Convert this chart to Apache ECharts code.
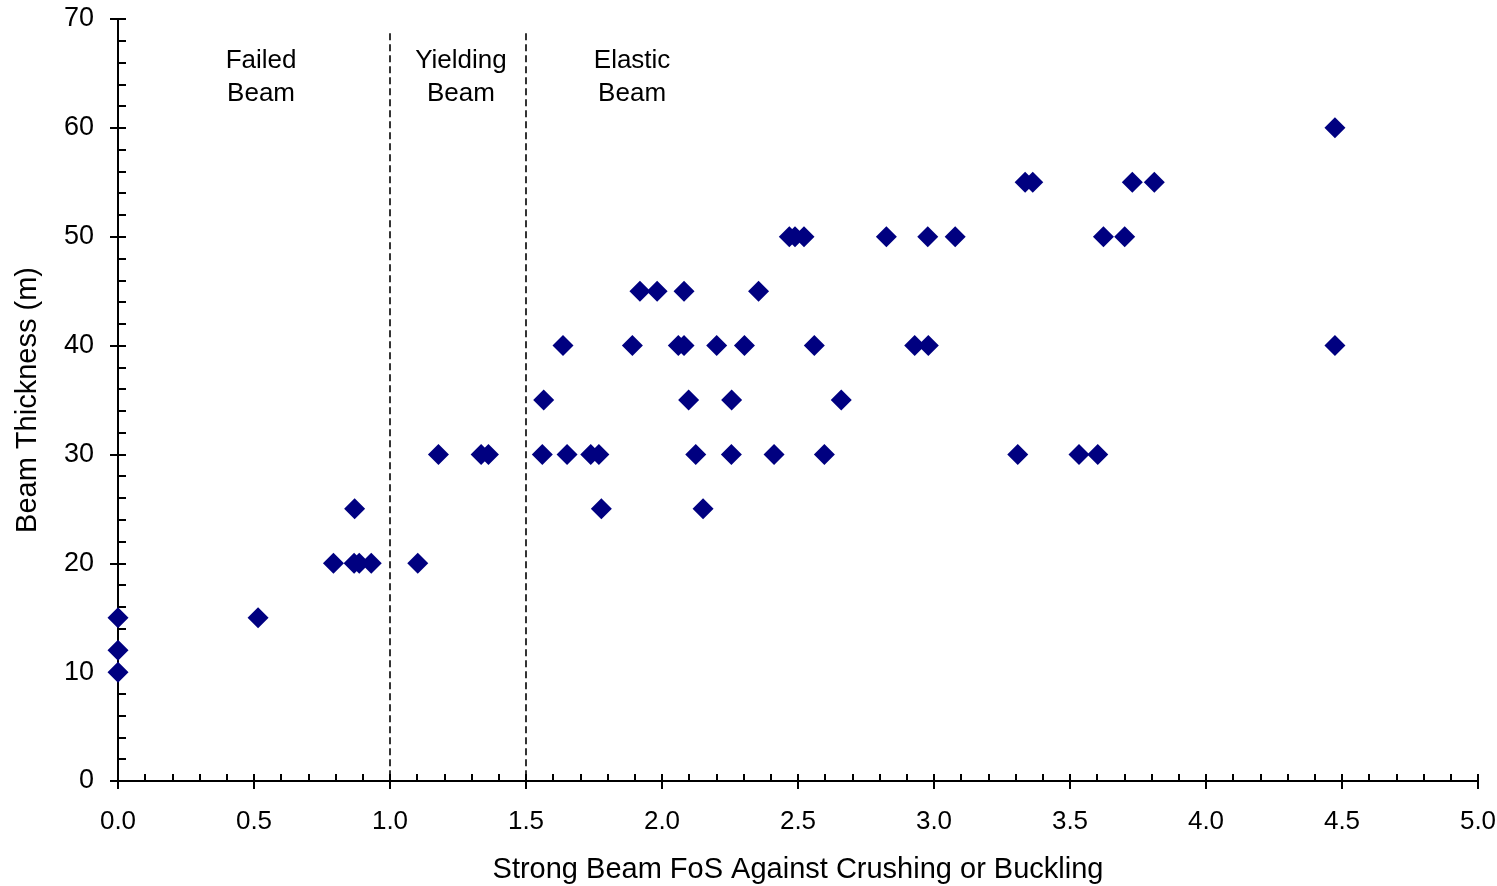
<!DOCTYPE html>
<html>
<head>
<meta charset="utf-8">
<script src="https://cdn.jsdelivr.net/npm/echarts@6/dist/echarts.min.js"></script>
<style>html,body{margin:0;padding:0;background:#fff;}#c{width:1497px;height:886px;}</style>
</head>
<body>
<div id="c"></div>
<script>
// Strong beam FoS (x) and beam thickness (y)
const fosValues = [
  0, 0, 0, 0.515,
  0.792, 0.868, 0.887, 0.931, 1.102, 0.870,
  1.178, 1.335, 1.362,
  1.560, 1.651, 1.738, 1.768, 2.124, 2.255, 2.412, 2.597, 3.308, 3.533, 3.602,
  1.777, 2.151,
  1.565, 2.098, 2.256, 2.659,
  1.636, 1.891, 2.060, 2.081, 2.201, 2.303, 2.560, 2.929, 2.979, 4.474,
  1.919, 1.982, 2.081, 2.355,
  2.468, 2.489, 2.522, 2.825, 2.977, 3.078, 3.623, 3.701,
  3.335, 3.363, 3.729, 3.810,
  4.474
];
const thicknessValues = [
  10, 12, 15, 15,
  20, 20, 20, 20, 20, 25,
  30, 30, 30,
  30, 30, 30, 30, 30, 30, 30, 30, 30, 30, 30,
  25, 25,
  35, 35, 35, 35,
  40, 40, 40, 40, 40, 40, 40, 40, 40, 40,
  45, 45, 45, 45,
  50, 50, 50, 50, 50, 50, 50, 50,
  55, 55, 55, 55,
  60
];
const boundaryFoS = [1.0, 1.5];
const boundaryTop = 68.7;
const zoneLabels = ['Failed\nBeam', 'Yielding\nBeam', 'Elastic\nBeam'];
const zoneLabelX = [0.526, 1.261, 1.890];
const zoneLabelY = [64.6, 64.6, 64.6];
const xTitle = 'Strong Beam FoS Against Crushing or Buckling';
const yTitle = 'Beam Thickness (m)';

const font = 'Liberation Sans, Arial, sans-serif';
const chart = echarts.init(document.getElementById('c'), null, {renderer: 'canvas'});

const points = fosValues.map((x, i) => [x, thicknessValues[i]]);
const boundarySeries = boundaryFoS.map(b => ({
  type: 'line',
  data: [[b, boundaryTop], [b, 0]],
  symbol: 'none',
  silent: true,
  lineStyle: {color: '#000', width: 1.6, type: [7, 4]},
  z: 1
}));

const labelSeries = {
  type: 'scatter',
  symbolSize: 0,
  silent: true,
  itemStyle: {color: '#fff', opacity: 0},
  data: zoneLabels.map((t, i) => ({value: [zoneLabelX[i], zoneLabelY[i]], name: t})),
  label: {
    show: true,
    position: 'inside',
    formatter: p => p.name,
    color: '#000',
    opacity: 1,
    textBorderWidth: 0,
    fontSize: 26,
    fontFamily: font,
    lineHeight: 33,
    align: 'center',
    verticalAlign: 'middle'
  }
};

const axisLine = {show: true, onZero: false, lineStyle: {color: '#000', width: 2}};

chart.setOption({
  animation: false,
  backgroundColor: '#fff',
  grid: {left: 118, right: 19, top: 19, bottom: 105, containLabel: false, outerBoundsMode: 'none'},
  xAxis: [
    {
      type: 'value', min: 0, max: 5, interval: 0.5, position: 'bottom',
      name: xTitle, nameLocation: 'middle', nameGap: 74,
      nameTextStyle: {fontSize: 29, fontFamily: font, color: '#000'},
      axisLine: axisLine,
      axisTick: {show: true, inside: true, length: 7, lineStyle: {color: '#000', width: 2}},
      minorTick: {show: true, splitNumber: 5, length: 7, lineStyle: {color: '#000', width: 2}},
      splitLine: {show: false}, minorSplitLine: {show: false},
      axisLabel: {fontSize: 26, fontFamily: font, color: '#000', margin: 28, formatter: v => v.toFixed(1)}
    },
    {
      type: 'value', min: 0, max: 5, interval: 0.5, position: 'bottom',
      axisLine: {show: false, onZero: false},
      axisTick: {show: true, inside: false, length: 8, lineStyle: {color: '#000', width: 2}},
      axisLabel: {show: false}, splitLine: {show: false}
    }
  ],
  yAxis: [
    {
      type: 'value', min: 0, max: 70, interval: 10, position: 'left',
      name: yTitle, nameLocation: 'middle', nameGap: 76,
      nameTextStyle: {fontSize: 29, fontFamily: font, color: '#000'},
      axisLine: axisLine,
      axisTick: {show: true, inside: true, length: 8, lineStyle: {color: '#000', width: 2}},
      minorTick: {show: true, splitNumber: 5, length: 8, lineStyle: {color: '#000', width: 2}},
      splitLine: {show: false}, minorSplitLine: {show: false},
      axisLabel: {fontSize: 27, fontFamily: font, color: '#000', margin: 24}
    },
    {
      type: 'value', min: 0, max: 70, interval: 10, position: 'left',
      axisLine: {show: false, onZero: false},
      axisTick: {show: true, inside: false, length: 8, lineStyle: {color: '#000', width: 2}},
      axisLabel: {show: false}, splitLine: {show: false}
    }
  ],
  series: [
    ...boundarySeries,
    labelSeries,
    {
      type: 'scatter',
      data: points,
      symbol: 'diamond',
      symbolSize: 21,
      itemStyle: {color: '#000080', opacity: 1},
      z: 3
    }
  ]
});
</script>
</body>
</html>
